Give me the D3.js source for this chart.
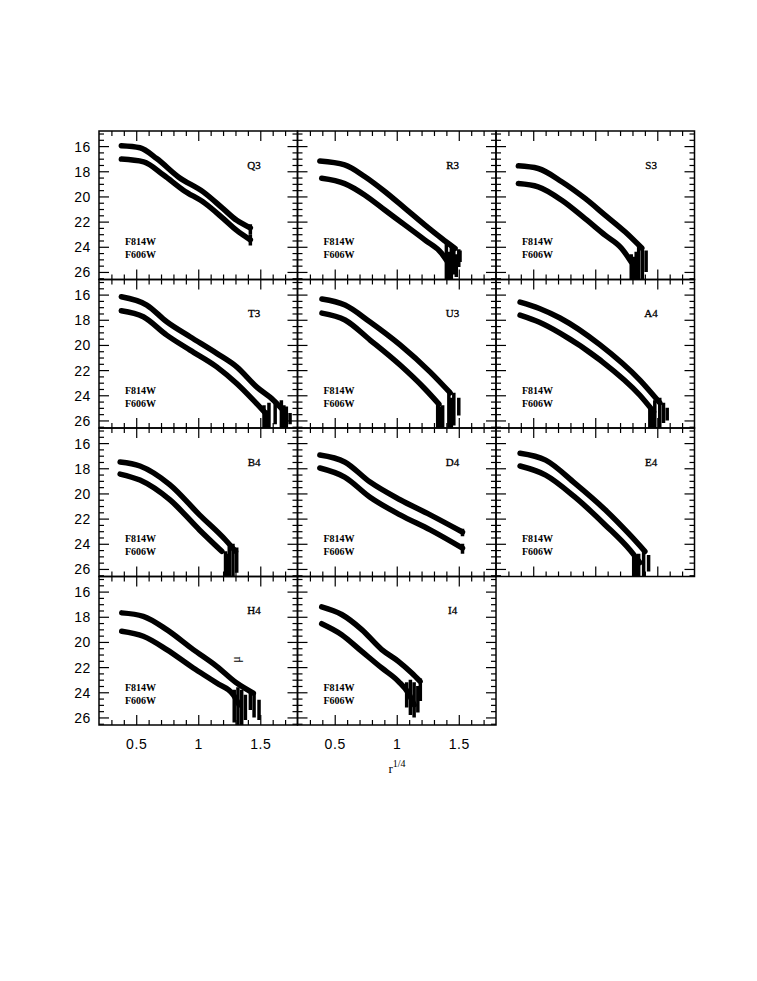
<!DOCTYPE html>
<html><head><meta charset="utf-8">
<script src="https://cdn.jsdelivr.net/npm/d3@7"></script>
<style>
html,body{margin:0;padding:0;background:#fff;}
svg{display:block;}
</style></head>
<body>
<svg id="chart" width="757" height="981"></svg>
<script>
// ---------------- data ----------------
const panelNames = ["Q3","R3","S3","T3","U3","A4","B4","D4","E4","H4","I4"];
const filterLabels = ["F814W","F606W"];
const xMajorTicks = [0.5, 1, 1.5];
const yMajorTicks = [16, 18, 20, 22, 24, 26];
const xDomain = [0.2, 1.8];
const yDomain = [14.8, 26.6];

// [r^(1/4), mu]
const q3F814 = [[0.38,15.97],[0.53,16.13],[0.665,16.99],[0.84,18.45],[1.04,19.64],[1.2,20.97],[1.31,21.9],[1.42,22.5]];
const q3F606 = [[0.38,17.03],[0.56,17.25],[0.72,18.3],[0.88,19.5],[1.055,20.55],[1.2,21.74],[1.31,22.7],[1.42,23.45]];
const q3Tail = [[1.42,22.2,23.0],[1.42,23.0,23.9]];

const r3F814 = [[0.38,17.19],[0.58,17.5],[0.744,18.44],[0.906,19.63],[1.067,20.95],[1.228,22.28],[1.363,23.34],[1.47,24.13]];
const r3F606 = [[0.395,18.56],[0.58,18.98],[0.744,19.9],[0.906,21.1],[1.067,22.28],[1.228,23.47],[1.363,24.53],[1.41,25.2]];
const r3Tail = [[1.40,23.6,26.6],[1.42,24.4,26.6],[1.44,23.8,26.6],[1.46,24.0,26.2],[1.48,24.6,26.4],[1.50,24.2,25.6],[1.51,24.3,25.2]];

const s3F814 = [[0.38,17.57],[0.54,17.78],[0.73,18.83],[0.918,20.16],[1.079,21.48],[1.24,22.81],[1.375,24.1]];
const s3F606 = [[0.38,18.98],[0.54,19.24],[0.73,20.3],[0.918,21.76],[1.079,23.07],[1.213,24.13],[1.29,25.2]];
const s3Tail = [[1.29,24.6,26.6],[1.31,24.8,26.6],[1.33,24.4,26.6],[1.35,24.0,26.6],[1.38,24.1,26.6],[1.41,24.3,26.0]];

const t3F814 = [[0.38,16.17],[0.585,16.83],[0.746,18.16],[0.934,19.35],[1.149,20.67],[1.31,21.74],[1.47,23.33],[1.606,24.39],[1.686,25.2]];
const t3F606 = [[0.38,17.28],[0.557,17.76],[0.746,19.22],[0.934,20.41],[1.149,21.74],[1.31,23.07],[1.444,24.39],[1.54,25.4]];
const t3Tail = [[1.53,24.8,26.6],[1.55,25.2,26.6],[1.57,24.6,26.6],[1.62,24.4,26.3],[1.67,24.4,26.6],[1.69,24.8,26.6],[1.71,24.9,26.6],[1.74,25.4,26.3]];

const u3F814 = [[0.397,16.35],[0.583,16.83],[0.785,18.18],[1.027,20.0],[1.27,22.16],[1.43,23.8]];
const u3F606 = [[0.397,17.47],[0.583,18.02],[0.785,19.61],[1.027,21.6],[1.228,23.5],[1.34,24.7]];
const u3Tail = [[1.33,24.5,26.6],[1.35,24.9,26.6],[1.37,24.8,26.6],[1.42,23.6,26.6],[1.44,24.2,26.6],[1.46,23.8,26.4],[1.50,24.2,25.6]];

const a4F814 = [[0.394,16.59],[0.55,17.1],[0.716,17.86],[1.039,20.0],[1.36,22.8],[1.52,24.6]];
const a4F606 = [[0.394,17.63],[0.55,18.2],[0.716,19.06],[1.039,21.2],[1.36,24.0],[1.47,25.3]];
const a4Tail = [[1.44,24.8,26.6],[1.46,25.0,26.6],[1.48,24.4,26.6],[1.52,24.2,26.6],[1.55,24.6,26.2],[1.58,25.0,26.0]];

const b4F814 = [[0.37,17.5],[0.53,17.82],[0.77,19.3],[1.01,21.7],[1.22,23.7],[1.30,24.6]];
const b4F606 = [[0.37,18.46],[0.53,18.94],[0.77,20.5],[1.01,22.9],[1.19,24.6]];
const b4Tail = [[1.22,24.6,26.6],[1.24,24.8,26.6],[1.25,24.2,26.6],[1.28,24.0,26.6],[1.31,24.3,26.3]];

const d4F814 = [[0.38,16.95],[0.58,17.5],[0.785,19.1],[1.027,20.5],[1.27,21.7],[1.53,23.07]];
const d4F606 = [[0.38,17.98],[0.58,18.7],[0.785,20.3],[1.027,21.7],[1.27,22.9],[1.53,24.35]];
const d4Tail = [[1.53,22.8,23.4],[1.53,24.0,24.8]];

const e4F814 = [[0.394,16.8],[0.6,17.35],[0.837,19.2],[1.08,21.3],[1.28,23.3],[1.4,24.6]];
const e4F606 = [[0.394,17.82],[0.6,18.54],[0.837,20.3],[1.08,22.5],[1.28,24.5],[1.36,25.5]];
const e4Tail = [[1.31,25.0,26.6],[1.33,25.2,26.6],[1.35,24.8,26.6],[1.39,24.6,26.6],[1.43,24.9,26.2]];

const h4F814 = [[0.383,17.69],[0.557,17.96],[0.746,19.02],[0.96,20.61],[1.149,21.94],[1.31,23.27],[1.444,24.07]];
const h4F606 = [[0.383,19.15],[0.557,19.55],[0.746,20.61],[0.96,22.07],[1.149,23.27],[1.283,24.2],[1.33,25.0]];
const h4Tail = [[1.29,23.8,26.4],[1.32,23.6,26.6],[1.35,23.8,26.6],[1.38,24.2,26.2],[1.42,23.8,25.4],[1.45,24.0,26.0],[1.49,24.6,26.2]];

const i4F814 = [[0.395,17.21],[0.556,17.82],[0.718,19.02],[0.879,20.61],[1.013,21.54],[1.121,22.47],[1.188,23.13]];
const i4F606 = [[0.395,18.55],[0.556,19.42],[0.718,20.75],[0.879,22.07],[1.013,23.13],[1.094,24.07],[1.14,25.0]];
const i4Tail = [[1.08,23.2,25.2],[1.11,23.0,25.8],[1.14,23.2,26.0],[1.17,23.5,25.6],[1.19,22.9,24.7]];

const upperSeries = [q3F814,r3F814,s3F814,t3F814,u3F814,a4F814,b4F814,d4F814,e4F814,h4F814,i4F814];
const lowerSeries = [q3F606,r3F606,s3F606,t3F606,u3F606,a4F606,b4F606,d4F606,e4F606,h4F606,i4F606];
const tailSeries  = [q3Tail,r3Tail,s3Tail,t3Tail,u3Tail,a4Tail,b4Tail,d4Tail,e4Tail,h4Tail,i4Tail];

// ---------------- layout ----------------
const svg = d3.select("#chart");
const left0 = 99, top0 = 131, pw = 198.5, ph = 148.5, ncol = 3;
const x = d3.scaleLinear().domain(xDomain).range([0, pw]);
const y = d3.scaleLinear().domain(yDomain).range([0, ph]);
const xMinor = d3.range(3, 18).map(v => v / 10).filter(v => !xMajorTicks.some(m => Math.abs(m - v) < 1e-6));
const yMinor = d3.range(30, 54).map(v => v / 2).filter(v => !yMajorTicks.includes(v));

svg.append("defs").append("clipPath").attr("id","pclip")
  .append("rect").attr("x",0).attr("y",0).attr("width",pw).attr("height",ph);

const line = d3.line().x(d => x(d[0])).y(d => y(d[1])).curve(d3.curveMonotoneX);

panelNames.forEach((name, i) => {
  const col = i % ncol, row = Math.floor(i / ncol);
  const g = svg.append("g").attr("transform", `translate(${left0 + col*pw},${top0 + row*ph})`);
  const showX = row === 3;

  const dg = g.append("g").attr("clip-path","url(#pclip)");
  [upperSeries[i], lowerSeries[i]].forEach(s => {
    dg.append("path").datum(s).attr("d", line)
      .attr("fill","none").attr("stroke","#000").attr("stroke-width",5.5)
      .attr("stroke-linecap","round").attr("stroke-linejoin","round");
  });
  dg.selectAll("line.tail").data(tailSeries[i]).join("line").attr("class","tail")
    .attr("x1", d => x(d[0])).attr("x2", d => x(d[0]))
    .attr("y1", d => y(d[1])).attr("y2", d => y(d[2]))
    .attr("stroke","#000").attr("stroke-width",3.5);

  // axes (inward ticks on all sides)
  const mk = (axisFn, scale, ticks, size, tr, labels) => {
    const a = g.append("g").attr("transform", tr)
      .call(axisFn(scale).tickValues(ticks).tickSize(size).tickSizeOuter(0)
        .tickFormat(labels ? d3.format("") : ""));
    a.select(".domain").remove();
    a.selectAll(".tick line").attr("stroke","#000").attr("stroke-width",1.2);
    return a;
  };
  mk(d3.axisLeft, y, yMinor, -5, "translate(0,0)", false);
  mk(d3.axisRight, y, yMinor, -5, `translate(${pw},0)`, false);
  mk(d3.axisTop, x, xMinor, -5, "translate(0,0)", false);
  mk(d3.axisBottom, x, xMinor, -5, `translate(0,${ph})`, false);
  const yl = mk(d3.axisLeft, y, yMajorTicks, -10, "translate(0,0)", col === 0);
  mk(d3.axisRight, y, yMajorTicks, -10, `translate(${pw},0)`, false);
  mk(d3.axisTop, x, xMajorTicks, -10, "translate(0,0)", false);
  const xl = mk(d3.axisBottom, x, xMajorTicks, -10, `translate(0,${ph})`, showX);
  yl.selectAll(".tick text").attr("x", -8).attr("dy","0.36em")
    .attr("font-family","Liberation Sans, Arial, sans-serif").attr("font-size",14)
    .attr("letter-spacing",0.6).attr("fill","#000");
  xl.selectAll(".tick text").attr("y", 14)
    .attr("font-family","Liberation Sans, Arial, sans-serif").attr("font-size",14)
    .attr("letter-spacing",0.6).attr("fill","#000");

  g.append("rect").attr("x",0).attr("y",0).attr("width",pw).attr("height",ph)
    .attr("fill","none").attr("stroke","#000").attr("stroke-width",1.5);

  g.append("text").attr("x", x(1.45)).attr("y", y(17.5)).attr("dy","0.35em")
    .attr("text-anchor","middle").attr("font-family","Liberation Serif, Times New Roman, serif")
    .attr("font-size",11).attr("stroke","#000").attr("stroke-width",0.3).text(name);
  filterLabels.forEach((t, k) => {
    g.append("text").attr("x", 26).attr("y", 114 + k*13)
      .attr("font-family","Liberation Serif, Times New Roman, serif").attr("font-weight","bold")
      .attr("font-size",10).text(t);
  });
  if (name === "H4") {
    g.append("text").attr("transform", `translate(${x(1.3)},${y(21.4)}) rotate(-90)`)
      .attr("text-anchor","middle").attr("dy","0.35em")
      .attr("font-family","Liberation Serif, Times New Roman, serif").attr("font-size",12)
      .text("μ");
  }
});

// x axis title r^{1/4}
const xt = svg.append("text").attr("x", 397).attr("y", 773).attr("text-anchor","middle")
  .attr("font-family","Liberation Serif, Times New Roman, serif").attr("font-size",13);
xt.append("tspan").text("r");
xt.append("tspan").attr("dy",-6).attr("font-size",10).text("1/4");
</script>
</body></html>
